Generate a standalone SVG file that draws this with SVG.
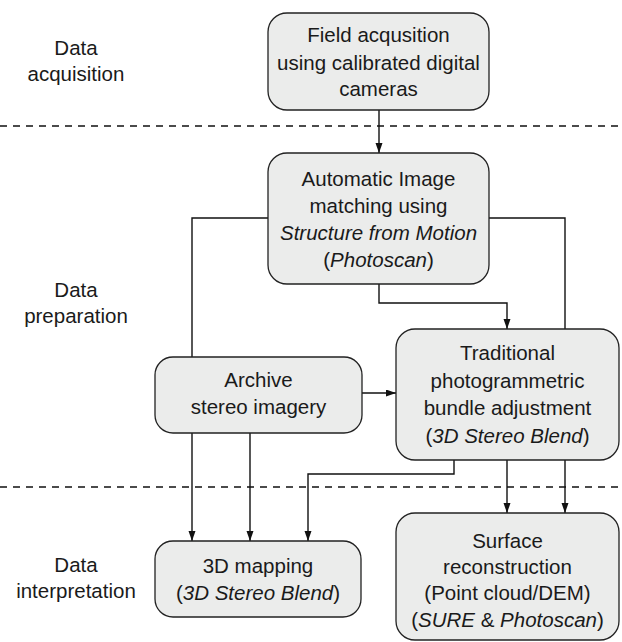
<svg xmlns="http://www.w3.org/2000/svg" width="622" height="642" viewBox="0 0 622 642">
<style>
  .node rect { fill: #ebeceb; stroke: #222; stroke-width: 1.3; }
  text { font-family: "Liberation Sans", Arial, sans-serif; font-size: 20.5px; fill: #1a1a1a; text-anchor: middle; }
  .it { font-style: italic; }
  .conn path { fill: none; stroke: #111; stroke-width: 1.4; }
  .dash { stroke: #111; stroke-width: 1.3; stroke-dasharray: 7 6; }
</style>
<defs>
  <marker id="arr" markerUnits="userSpaceOnUse" markerWidth="11" markerHeight="8" refX="10" refY="3.5" orient="auto">
    <path d="M0,0 L10,3.5 L0,7 z" fill="#111"/>
  </marker>
</defs>

<g id="dividers">
  <line class="dash" x1="0" y1="126" x2="622" y2="126"/>
  <line class="dash" x1="0" y1="487" x2="622" y2="487"/>
</g>

<g id="labels">
  <text x="76" y="55">Data</text>
  <text x="76" y="81">acquisition</text>
  <text x="76" y="297">Data</text>
  <text x="76" y="323">preparation</text>
  <text x="76" y="572">Data</text>
  <text x="76" y="598">interpretation</text>
</g>

<g class="conn" id="connectors">
  <path d="M379,110 V153" marker-end="url(#arr)"/>
  <path d="M268,218 H192 V357"/>
  <path d="M489,218 H565 V329"/>
  <path d="M379,284 V303 H507 V329" marker-end="url(#arr)"/>
  <path d="M362,393 H396" marker-end="url(#arr)"/>
  <path d="M192,433 V541" marker-end="url(#arr)"/>
  <path d="M250,433 V541" marker-end="url(#arr)"/>
  <path d="M454,460 V474 H308 V541" marker-end="url(#arr)"/>
  <path d="M507,460 V513" marker-end="url(#arr)"/>
  <path d="M565,460 V513" marker-end="url(#arr)"/>
</g>

<g class="node" id="field">
  <rect x="268" y="13" width="221" height="97" rx="19"/>
  <text x="378.5" y="42">Field acqusition</text>
  <text x="378.5" y="70">using calibrated digital</text>
  <text x="378.5" y="96">cameras</text>
</g>

<g class="node" id="matching">
  <rect x="268" y="153" width="221" height="131" rx="19"/>
  <text x="378.5" y="186">Automatic Image</text>
  <text x="378.5" y="213">matching using</text>
  <text x="378.5" y="240" class="it">Structure from Motion</text>
  <text x="378.5" y="267">(<tspan class="it">Photoscan</tspan>)</text>
</g>

<g class="node" id="archive">
  <rect x="155" y="357" width="207" height="76" rx="18"/>
  <text x="258.5" y="387">Archive</text>
  <text x="258.5" y="414">stereo imagery</text>
</g>

<g class="node" id="traditional">
  <rect x="396" y="329" width="223" height="131" rx="19"/>
  <text x="507.5" y="360">Traditional</text>
  <text x="507.5" y="388">photogrammetric</text>
  <text x="507.5" y="415">bundle adjustment</text>
  <text x="507.5" y="443">(<tspan class="it">3D Stereo Blend</tspan>)</text>
</g>

<g class="node" id="mapping">
  <rect x="155" y="541" width="206" height="76" rx="18"/>
  <text x="258" y="573">3D mapping</text>
  <text x="258" y="600">(<tspan class="it">3D Stereo Blend</tspan>)</text>
</g>

<g class="node" id="surface">
  <rect x="396" y="513" width="223" height="127" rx="19"/>
  <text x="507.5" y="548">Surface</text>
  <text x="507.5" y="574">reconstruction</text>
  <text x="507.5" y="600">(Point cloud/DEM)</text>
  <text x="507.5" y="627">(<tspan class="it">SURE</tspan> &amp; <tspan class="it">Photoscan</tspan>)</text>
</g>
</svg>
